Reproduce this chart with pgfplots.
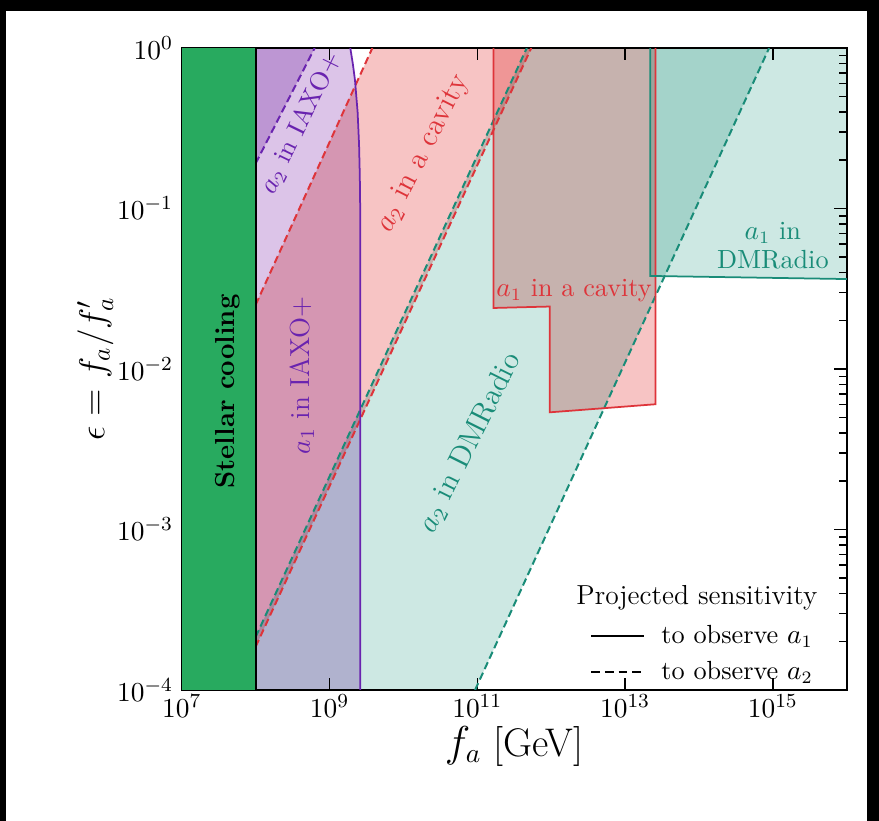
\documentclass[border=0pt]{standalone}
\usepackage{pgfplots}
\pgfplotsset{compat=1.18}

\definecolor{coolgreen}{RGB}{40,170,95}
\definecolor{tealfill}{RGB}{205,232,227}
\definecolor{tealline}{RGB}{25,140,120}
\definecolor{pinkfill}{RGB}{247,196,196}
\definecolor{redline}{RGB}{222,52,58}
\definecolor{lavfill}{RGB}{220,196,232}
\definecolor{purpline}{RGB}{105,35,175}

\begin{document}
\begin{tikzpicture}
% page frame
\fill[black] (0,0) rectangle (351.6pt,-328.4pt);
\fill[white] (2.4pt,-4.4pt) rectangle (346.8pt,-328.4pt);
\begin{axis}[
  at={(72.7pt,-19.2pt)}, anchor=north west,
  scale only axis, width=266pt, height=256.8pt,
  xmode=log, ymode=log,
  xmin=1e7, xmax=1e16, ymin=1e-4, ymax=1,
  xtick={1e7,1e9,1e11,1e13,1e15},
  xminorticks=false,
  ytick={1e-4,1e-3,1e-2,1e-1,1},
  tick align=inside,
  major tick length=5pt, minor tick length=3pt,
  tick style={black, line width=0.6pt},
  axis line style={line width=0.8pt},
  ticklabel style={font=\fontsize{11}{12}\selectfont},
  xticklabel style={yshift=1.5pt},
  xlabel={$f_a$ [GeV]},
  ylabel={$\epsilon = f_a / f'_a$},
  every axis x label/.style={at={(axis description cs:0.5,-0.088)}, anchor=center, font=\fontsize{16}{18}\selectfont},
  every axis y label/.style={at={(axis description cs:-0.13,0.5)}, anchor=center, rotate=90, font=\fontsize{14}{16}\selectfont},
  legend style={at={(axis description cs:0.6137,0.056)}, anchor=west, draw=none, fill=none,
    inner sep=0pt, nodes={inner sep=1pt}, row sep=3.6pt,
    font=\fontsize{10.5}{12}\selectfont,
    /tikz/every odd column/.append style={column sep=5.5pt}},
  legend image code/.code={\draw[#1] (0cm,0cm) -- (0.75cm,0cm);},
  legend cell align=left,
  dashline/.style={line width=0.8pt, dash pattern=on 3pt off 1.6pt},
]
% ---- sensitivity regions (multiplied so overlaps darken) ----
% a2 in DMRadio
\addplot[fill=tealfill, draw=none, blend mode=multiply, forget plot] coordinates {
  (1e8,2.14e-4) (4.68e11,1) (8.9e14,1) (9.33e10,1e-4) (1e8,1e-4)};
% a1 in DMRadio
\addplot[fill=tealfill, draw=none, blend mode=multiply, forget plot] coordinates {
  (2.19e13,1) (2.19e13,0.0380) (1.2e16,0.0363) (1.2e16,1)};
% a2 in a cavity
\addplot[fill=pinkfill, draw=none, blend mode=multiply, forget plot] coordinates {
  (1e8,0.0251) (3.8e9,1) (5.37e11,1) (1e8,1.86e-4)};
% a1 in a cavity
\addplot[fill=pinkfill, draw=none, blend mode=multiply, forget plot] coordinates {
  (1.66e11,1) (1.66e11,0.0240) (9.55e11,0.0245) (9.55e11,5.37e-3) (2.57e13,6.03e-3) (2.57e13,1)};
% a1 in IAXO+
\addplot[fill=lavfill, draw=none, blend mode=multiply, forget plot] coordinates {
  (1e8,1e-4) (2.6e9,1e-4) (2.6e9,0.1) (2.57e9,0.158) (2.51e9,0.251) (2.40e9,0.398)
  (2.21e9,0.631) (2.07e9,0.794) (1.91e9,1) (1e8,1)};
% a2 in IAXO+
\addplot[fill=lavfill, draw=none, blend mode=multiply, forget plot] coordinates {
  (1e8,0.191) (6.3e8,1) (1e8,1)};
% stellar cooling
\addplot[fill=coolgreen, draw=none, forget plot] coordinates {
  (1e7,1e-4) (1e8,1e-4) (1e8,1) (1e7,1)};

% ---- boundaries ----
\addplot[tealline, dashline, forget plot] coordinates {(1e8,2.14e-4) (4.68e11,1)};
\addplot[tealline, dashline, forget plot] coordinates {(9.33e10,1e-4) (8.9e14,1)};
\addplot[redline, dashline, forget plot] coordinates {(1e8,0.0251) (3.8e9,1)};
\addplot[redline, dashline, forget plot] coordinates {(1e8,1.86e-4) (5.37e11,1)};
\addplot[purpline, dashline, forget plot] coordinates {(1e8,0.191) (6.3e8,1)};
\addplot[redline, line width=0.7pt, forget plot] coordinates {
  (1.66e11,1) (1.66e11,0.0240) (9.55e11,0.0245) (9.55e11,5.37e-3) (2.57e13,6.03e-3) (2.57e13,1)};
\addplot[tealline, line width=0.7pt, forget plot] coordinates {
  (2.19e13,1) (2.19e13,0.0380) (1.2e16,0.0363)};
\addplot[purpline, line width=0.7pt, forget plot] coordinates {
  (2.6e9,1e-4) (2.6e9,0.1) (2.57e9,0.158) (2.51e9,0.251) (2.40e9,0.398)
  (2.21e9,0.631) (2.07e9,0.794) (1.91e9,1)};
\addplot[black, line width=0.8pt, forget plot] coordinates {(1e8,1e-4) (1e8,1)};

% ---- region labels ----
\node[rotate=90, font=\bfseries\fontsize{11}{12}\selectfont] at (axis cs:4.17e7,7.24e-3) {Stellar cooling};
\node[rotate=64, text=purpline, font=\fontsize{10.5}{12}\selectfont] at (axis cs:4.07e8,0.339) {$a_2$ in IAXO+};
\node[rotate=90, text=purpline, font=\fontsize{11}{12}\selectfont] at (axis cs:4.27e8,9.12e-3) {$a_1$ in IAXO+};
\node[rotate=63, text=redline, font=\fontsize{12}{14}\selectfont] at (axis cs:1.86e10,0.219) {$a_2$ in a cavity};
\node[rotate=63.5, text=tealline, font=\fontsize{12}{14}\selectfont] at (axis cs:7.94e10,3.47e-3) {$a_2$ in DMRadio};
\node[text=redline, font=\fontsize{10.5}{12}\selectfont] at (axis cs:2.04e12,0.0309) {$a_1$ in a cavity};
\node[text=tealline, align=center, font=\fontsize{10.5}{11.6}\selectfont] at (axis cs:1e15,0.0589) {$a_1$ in\\DMRadio};

% ---- legend ----
\node[font=\fontsize{11}{12}\selectfont] at (axis description cs:0.7746,0.143) {Projected sensitivity};
\addlegendimage{black, line width=0.6pt}
\addlegendentry{to observe $a_1$}
\addlegendimage{black, line width=0.6pt, dash pattern=on 3.5pt off 2pt}
\addlegendentry{to observe $a_2$}
\end{axis}
\end{tikzpicture}
\end{document}
